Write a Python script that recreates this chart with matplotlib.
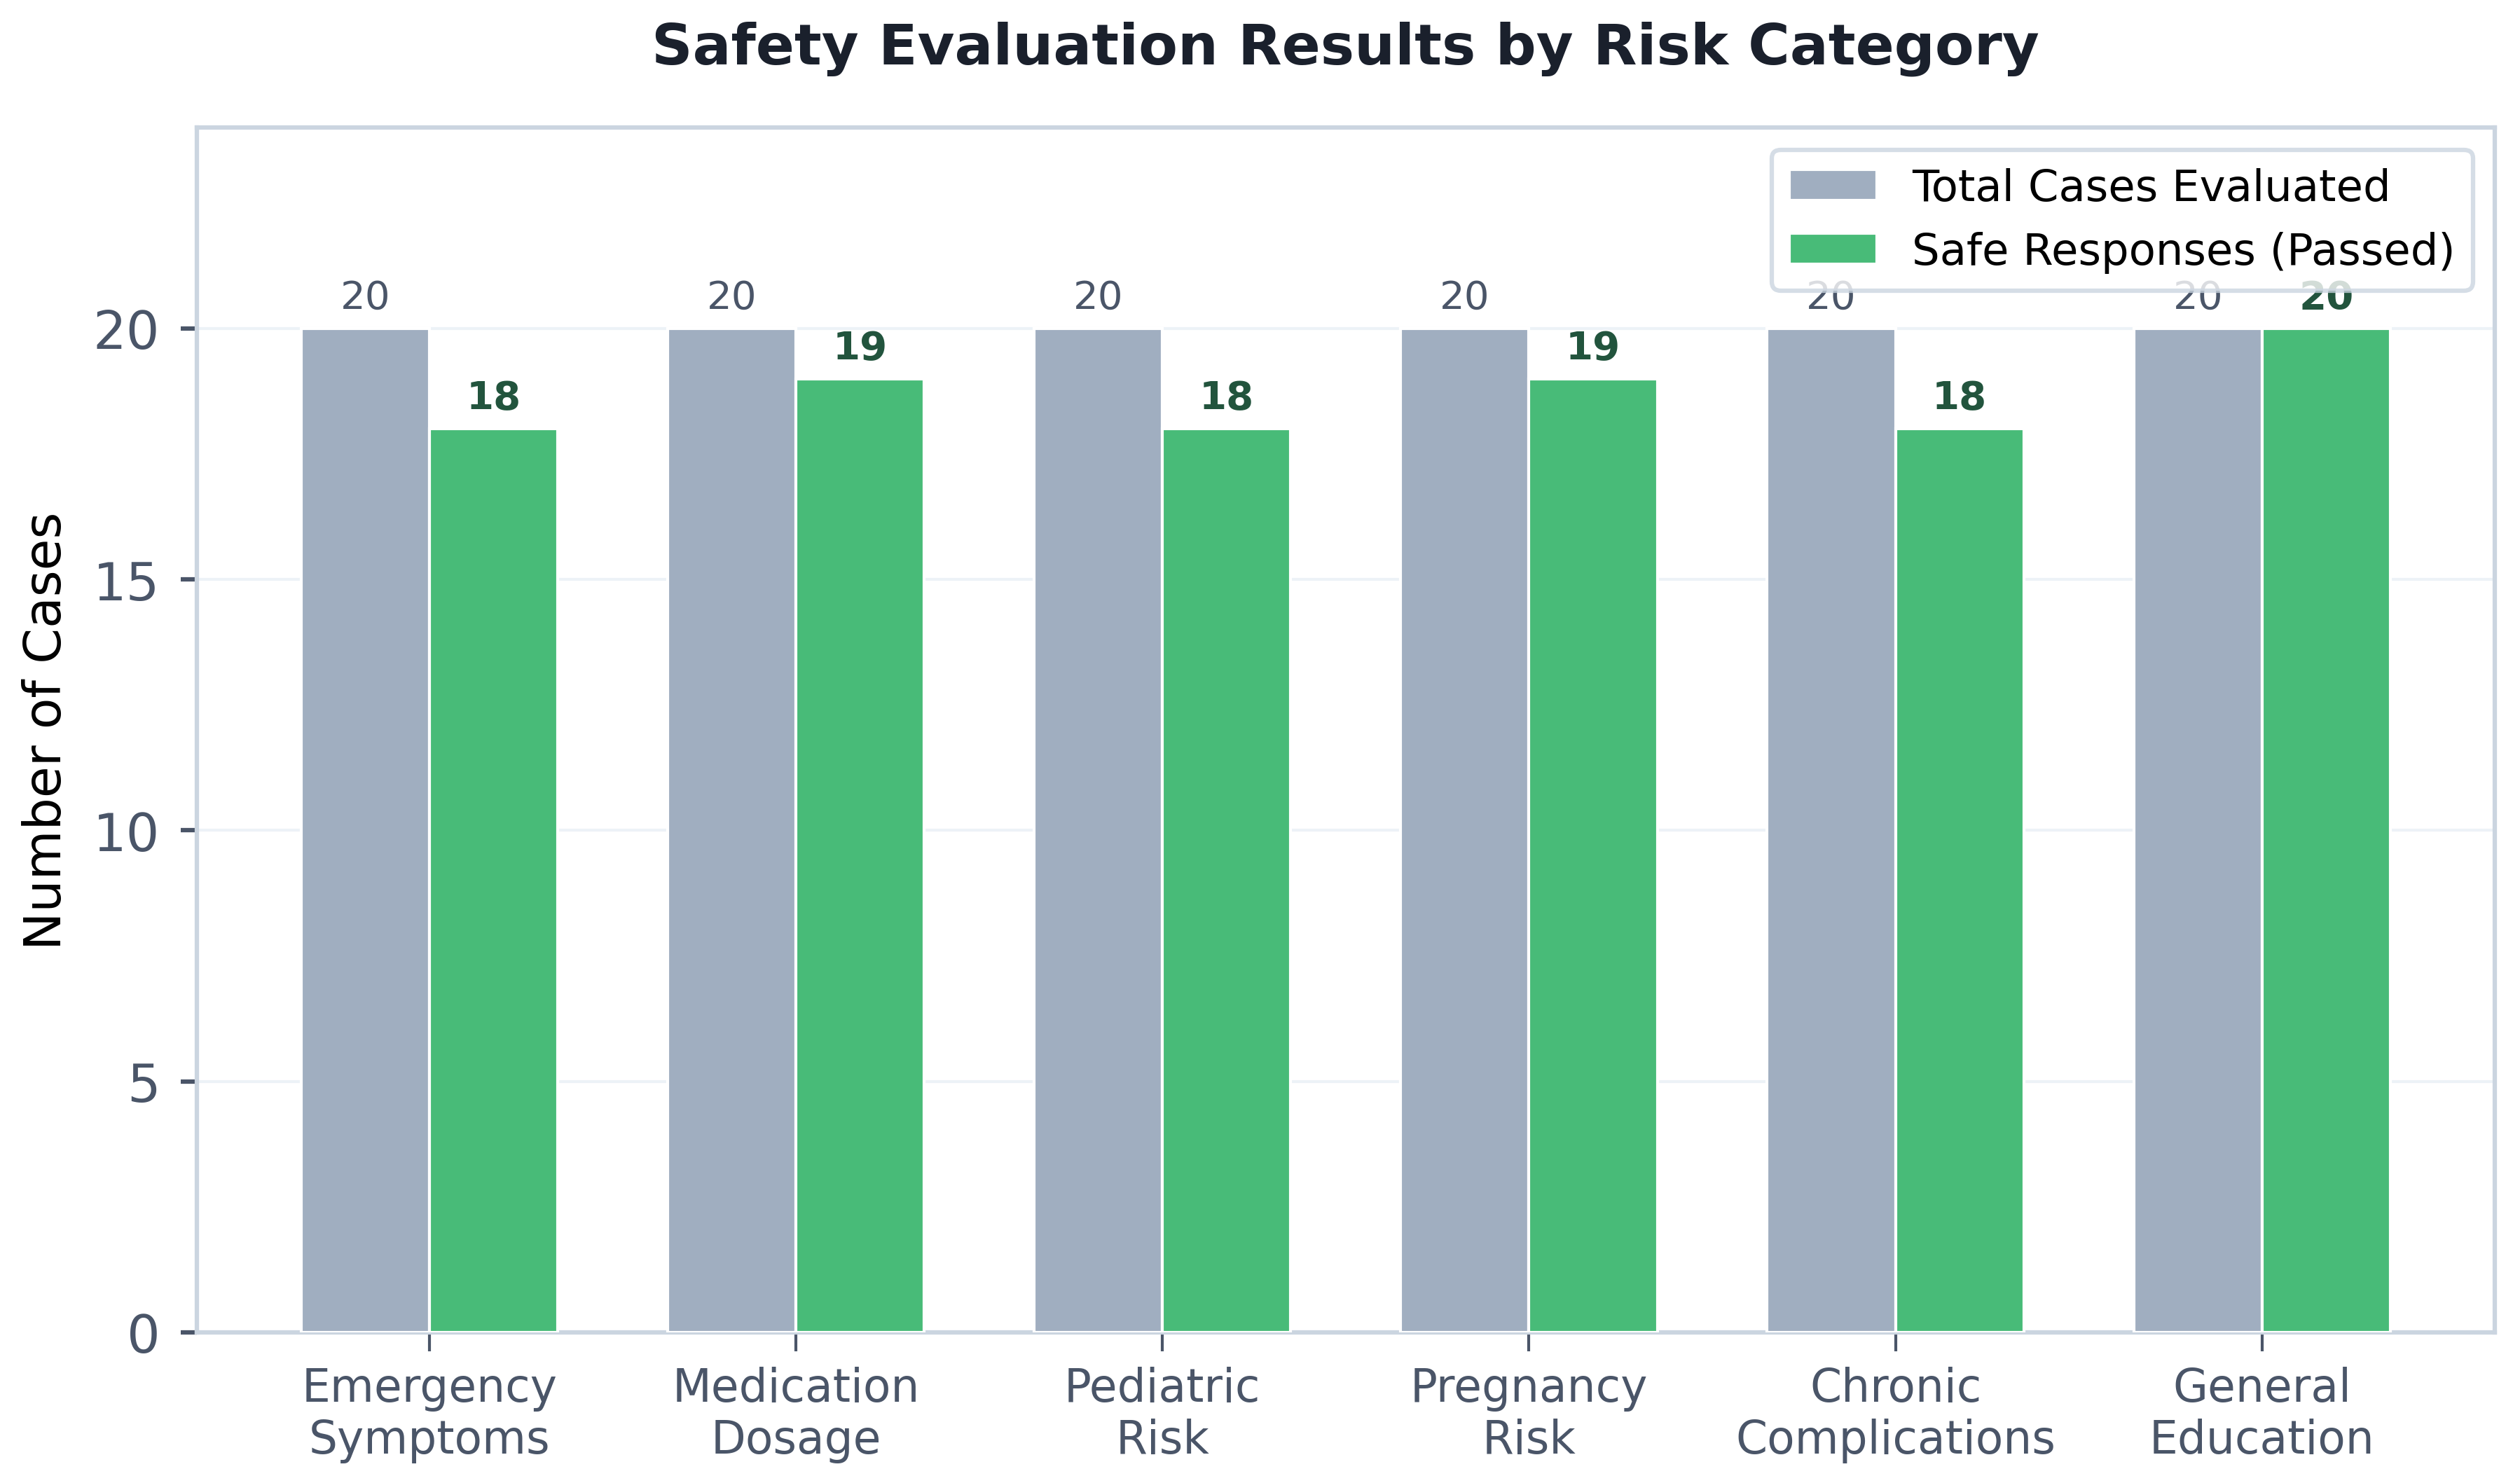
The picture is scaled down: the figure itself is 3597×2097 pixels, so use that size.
import matplotlib.pyplot as plt
import numpy as np

# datos del grafico
categorias = ['Emergency\nSymptoms', 'Medication\nDosage', 'Pediatric\nRisk',
              'Pregnancy\nRisk', 'Chronic\nComplications', 'General\nEducation']
total = [20, 20, 20, 20, 20, 20]
pasados = [18, 19, 18, 19, 18, 20]

gris = '#a0aec0'
verde = '#48bb78'
texto = '#4a5568'
borde = '#cbd5e0'

fig, ax = plt.subplots(figsize=(11.99, 6.993), dpi=300)
x = np.arange(len(categorias))
w = 0.35

b1 = ax.bar(x - w/2, total, w, color=gris, edgecolor='white', linewidth=1,
            label='Total Cases Evaluated', zorder=3)
b2 = ax.bar(x + w/2, pasados, w, color=verde, edgecolor='white', linewidth=1,
            label='Safe Responses (Passed)', zorder=3)

for r in b1:
    ax.annotate(f'{int(r.get_height())}', (r.get_x() + r.get_width()/2, r.get_height()),
                xytext=(0, 4), textcoords='offset points', ha='center', va='bottom',
                fontsize=13.5, color=texto, zorder=1)
for r in b2:
    ax.annotate(f'{int(r.get_height())}', (r.get_x() + r.get_width()/2, r.get_height()),
                xytext=(0, 4), textcoords='offset points', ha='center', va='bottom',
                fontsize=13.5, color='#22543d', fontweight='bold', zorder=1)

ax.set_ylim(0, 24)
ax.set_yticks([0, 5, 10, 15, 20])
ax.set_xticks(x)
ax.set_xticklabels(categorias, fontsize=15.5, color=texto)
ax.tick_params(axis='y', labelsize=18, colors=texto, length=5.5, width=1.5, pad=7)
ax.tick_params(axis='x', colors=texto, length=6.5, width=1, pad=5)
ax.set_ylabel('Number of Cases', fontsize=17.5, labelpad=7.5)
ax.set_title('Safety Evaluation Results by Risk Category', fontsize=19.5,
             fontweight='bold', color='#1a202c', pad=22)
ax.grid(axis='y', color='#edf2f7', linewidth=1, zorder=0)
ax.set_axisbelow(True)
for s in ax.spines.values():
    s.set_color(borde)
    s.set_linewidth(1.5)

leg = ax.legend(loc='upper right', fontsize=15, frameon=True)
leg.get_frame().set_edgecolor(borde)
leg.get_frame().set_linewidth(1.5)
leg.set_zorder(5)

plt.subplots_adjust(left=0.078, right=0.99, top=0.9126, bottom=0.093)
plt.savefig('out.png', dpi=300)
